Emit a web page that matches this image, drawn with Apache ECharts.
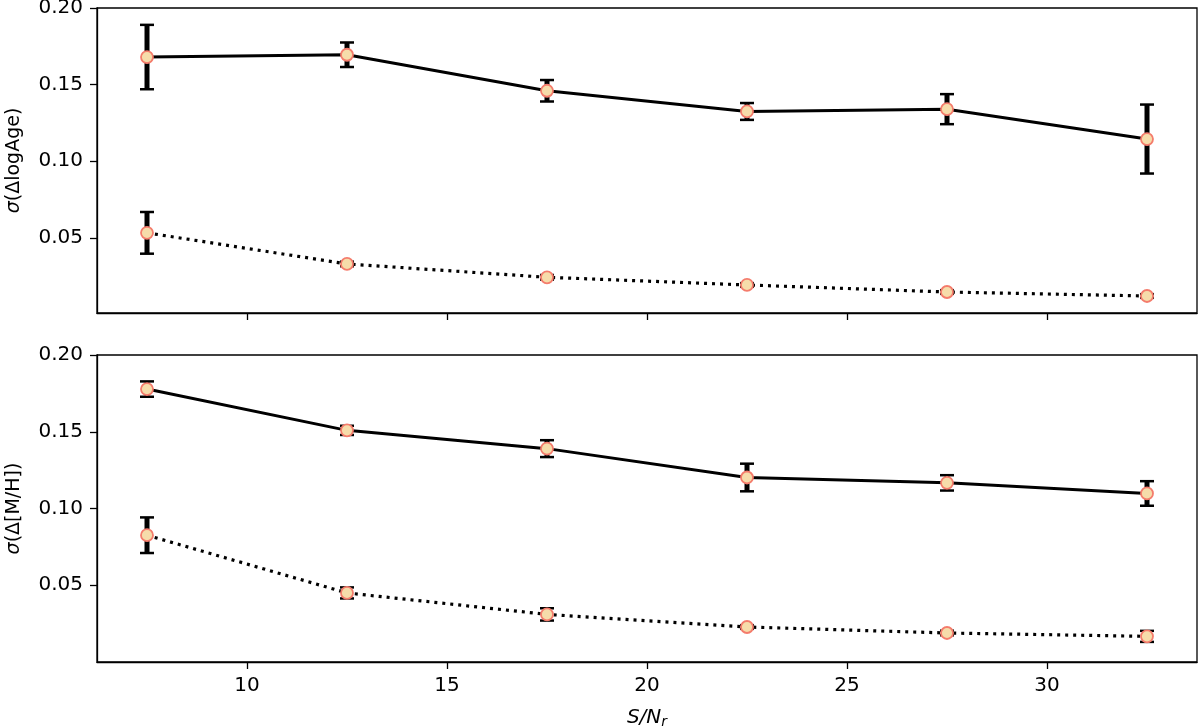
<!DOCTYPE html>
<html>
<head>
<meta charset="utf-8">
<script src="https://cdn.jsdelivr.net/npm/echarts@6/dist/echarts.min.js"></script>
<style>html,body{margin:0;padding:0;background:#fff}#c{width:1200px;height:727px}</style>
</head>
<body>
<div id="c"></div>
<script>
// ---- data ----
const snr = [7.5, 12.5, 17.5, 22.5, 27.5, 32.5];
const ageSolid = [0.168, 0.1695, 0.146, 0.1325, 0.134, 0.1145];
const ageSolidErr = [0.021, 0.008, 0.007, 0.0055, 0.0098, 0.0225];
const ageDotted = [0.0533, 0.033, 0.0243, 0.0193, 0.0147, 0.0121];
const ageDottedErr = [0.0136, 0.0015, 0.0015, 0.0012, 0.0012, 0.0012];
const mhSolid = [0.1778, 0.1509, 0.139, 0.1202, 0.1167, 0.1098];
const mhSolidErr = [0.005, 0.003, 0.0055, 0.009, 0.005, 0.008];
const mhDotted = [0.0826, 0.045, 0.031, 0.0228, 0.0189, 0.0167];
const mhDottedErr = [0.0116, 0.0036, 0.004, 0.0012, 0.0015, 0.0036];
const xTicks = [10, 15, 20, 25, 30];
const yTicks = [0.05, 0.10, 0.15, 0.20];

const FONT = 'DejaVu Sans';
const chart = echarts.init(document.getElementById('c'), null, {renderer: 'canvas'});

function errData(vals, errs) {
  return snr.map((x, i) => [x, vals[i] - errs[i], vals[i] + errs[i]]);
}
function errSeries(idx, vals, errs) {
  return {
    type: 'custom', xAxisIndex: idx, yAxisIndex: idx, z: 3, silent: true,
    data: errData(vals, errs),
    renderItem: function (params, api) {
      const lo = api.coord([api.value(0), api.value(1)]);
      const hi = api.coord([api.value(0), api.value(2)]);
      const hw = 7;
      return {
        type: 'group',
        children: [
          {type: 'line', shape: {x1: lo[0], y1: lo[1], x2: hi[0], y2: hi[1]}, style: {stroke: '#000', lineWidth: 5}},
          {type: 'line', shape: {x1: lo[0] - hw, y1: lo[1], x2: lo[0] + hw, y2: lo[1]}, style: {stroke: '#000', lineWidth: 2.5}},
          {type: 'line', shape: {x1: hi[0] - hw, y1: hi[1], x2: hi[0] + hw, y2: hi[1]}, style: {stroke: '#000', lineWidth: 2.5}}
        ]
      };
    }
  };
}
function lineSeries(idx, vals, dotted) {
  return {
    type: 'line', xAxisIndex: idx, yAxisIndex: idx, z: 4, silent: true,
    data: snr.map((x, i) => [x, vals[i]]),
    symbol: 'circle', symbolSize: 12, showAllSymbol: true,
    itemStyle: {color: '#f6dcaa', borderColor: '#f47c6c', borderWidth: 1.8},
    lineStyle: dotted ? {color: '#000', width: 3.2, type: [3, 5]} : {color: '#000', width: 3},
    animation: false
  };
}
function xAxis(idx, showLabels) {
  return {
    type: 'value', gridIndex: idx, min: 6.25, max: 33.75,
    axisLine: {show: true, onZero: false, lineStyle: {color: '#000', width: 1.3}},
    axisTick: {show: true, inside: false, length: 7, customValues: xTicks, lineStyle: {color: '#000', width: 1.3}},
    axisLabel: {show: showLabels, customValues: xTicks, margin: 14, color: '#000', fontSize: 20, fontFamily: FONT},
    splitLine: {show: false},
    name: showLabels ? '{i|S/N}{s|r}' : '',
    nameLocation: 'middle', nameGap: 45,
    nameTextStyle: {
      rich: {
        i: {fontFamily: FONT, fontStyle: 'italic', fontSize: 20, color: '#000'},
        s: {fontFamily: FONT, fontStyle: 'italic', fontSize: 14, color: '#000', verticalAlign: 'bottom', padding: [8, 0, 0, 0]}
      }
    }
  };
}
function yAxis(idx, min, label) {
  return {
    type: 'value', gridIndex: idx, min: min, max: 0.20,
    axisLine: {show: true, onZero: false, lineStyle: {color: '#000', width: 1.3}},
    axisTick: {show: true, inside: false, length: 7, customValues: yTicks, lineStyle: {color: '#000', width: 1.3}},
    axisLabel: {show: true, customValues: yTicks, margin: 14, color: '#000', fontSize: 20, fontFamily: FONT,
      formatter: v => v.toFixed(2)},
    splitLine: {show: false},
    name: '{i|σ}{n|' + label + '}',
    nameLocation: 'middle', nameGap: 73, nameRotate: 90,
    nameTextStyle: {
      rich: {
        i: {fontFamily: FONT, fontStyle: 'italic', fontSize: 19, color: '#000'},
        n: {fontFamily: FONT, fontSize: 19, color: '#000'}
      }
    }
  };
}

chart.setOption({
  animation: false,
  backgroundColor: '#fff',
  textStyle: {fontFamily: FONT},
  grid: [
    {left: 97, top: 8, width: 1100, height: 305, show: true, borderColor: '#000', borderWidth: 1.3, containLabel: false, outerBoundsMode: 'none'},
    {left: 97, top: 355, width: 1100, height: 307, show: true, borderColor: '#000', borderWidth: 1.3, containLabel: false, outerBoundsMode: 'none'}
  ],
  xAxis: [xAxis(0, false), xAxis(1, true)],
  yAxis: [yAxis(0, 0.001, '(ΔlogAge)'), yAxis(1, 0, '(Δ[M/H])')],
  series: [
    errSeries(0, ageSolid, ageSolidErr),
    errSeries(0, ageDotted, ageDottedErr),
    lineSeries(0, ageSolid, false),
    lineSeries(0, ageDotted, true),
    errSeries(1, mhSolid, mhSolidErr),
    errSeries(1, mhDotted, mhDottedErr),
    lineSeries(1, mhSolid, false),
    lineSeries(1, mhDotted, true)
  ]
});
</script>
</body>
</html>
